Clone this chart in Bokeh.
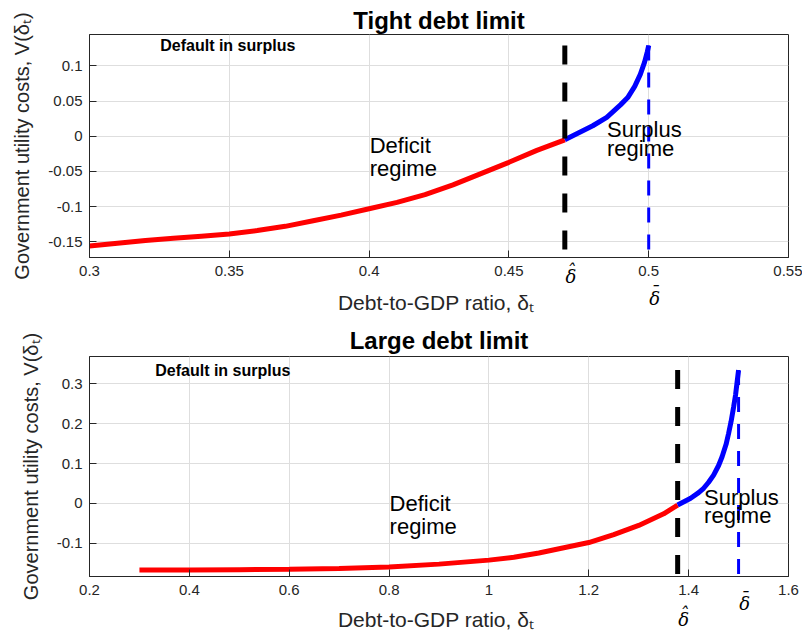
from bokeh.plotting import figure
from bokeh.models import Label, LinearAxis, Range1d, FixedTicker, Title
from bokeh.layouts import column
from bokeh.embed import file_html
from bokeh.resources import INLINE

# ---------------- data: tight debt limit ----------------
tight_deficit_x = [0.300, 0.310, 0.320, 0.330, 0.340, 0.350, 0.360, 0.370, 0.380,
                   0.390, 0.400, 0.410, 0.420, 0.430, 0.440, 0.450, 0.460, 0.470]
tight_deficit_v = [-0.156, -0.152, -0.148, -0.145, -0.142, -0.139, -0.134, -0.128, -0.120,
                   -0.112, -0.103, -0.094, -0.083, -0.069, -0.053, -0.037, -0.020, -0.005]
tight_surplus_x = [0.470, 0.475, 0.480, 0.485, 0.490, 0.4925, 0.495, 0.497, 0.4985, 0.4995, 0.500]
tight_surplus_v = [-0.005, 0.005, 0.015, 0.027, 0.045, 0.055, 0.071, 0.088, 0.105, 0.120, 0.129]
tight_dhat = 0.47
tight_dbar = 0.50
tight_xrange = (0.3, 0.55)
tight_yrange = (-0.1723, 0.1447)
tight_xticks = [0.3, 0.35, 0.4, 0.45, 0.5, 0.55]
tight_xtick_labels = ["0.3", "0.35", "0.4", "0.45", "0.5", "0.55"]
tight_yticks = [-0.15, -0.1, -0.05, 0, 0.05, 0.1]
tight_ytick_labels = ["-0.15", "-0.1", "-0.05", "0", "0.05", "0.1"]

# ---------------- data: large debt limit ----------------
large_deficit_x = [0.30, 0.40, 0.50, 0.60, 0.70, 0.80, 0.90, 1.00, 1.05, 1.10,
                   1.15, 1.20, 1.25, 1.30, 1.35, 1.378]
large_deficit_v = [-0.167, -0.167, -0.166, -0.165, -0.163, -0.159, -0.152, -0.142, -0.135, -0.124,
                   -0.111, -0.098, -0.078, -0.055, -0.026, -0.004]
large_surplus_x = [1.378, 1.404, 1.42, 1.43, 1.44, 1.45, 1.46, 1.467, 1.475, 1.48,
                   1.485, 1.49, 1.494, 1.4967, 1.500]
large_surplus_v = [-0.004, 0.013, 0.027, 0.038, 0.053, 0.071, 0.095, 0.117, 0.148, 0.175,
                   0.205, 0.241, 0.272, 0.300, 0.334]
large_dhat = 1.378
large_dbar = 1.50
large_xrange = (0.2, 1.6)
large_yrange = (-0.183, 0.368)
large_xticks = [0.2, 0.4, 0.6, 0.8, 1, 1.2, 1.4, 1.6]
large_xtick_labels = ["0.2", "0.4", "0.6", "0.8", "1", "1.2", "1.4", "1.6"]
large_yticks = [-0.1, 0, 0.1, 0.2, 0.3]
large_ytick_labels = ["-0.1", "0", "0.1", "0.2", "0.3"]

titles = ["Tight debt limit", "Large debt limit"]
note_text = "Default in surplus"
x_label = "Debt-to-GDP ratio,  δₜ"
y_label = "Government utility costs, V(δₜ)"
HAT = "ˆ"      # accent written just above the delta
BAR = "¯"
DELTA = "δ"

AX = "#262626"
SANS = "Liberation Sans"
FRAME_W = 699


def txt(p, x, y, text, size, style="normal", yo=0):
    p.add_layout(Label(x=x, y=y, text=text, text_font=SANS,
                       text_font_size=f"{size}px", text_font_style=style,
                       text_align="left", text_baseline="alphabetic",
                       y_offset=yo, text_color="black"))


def make_panel(height, btop, bbottom, xr, yr, xt, xtl, yt, ytl,
               row_a, row_b, gap_lines, delta_standoff, label_standoff, title, tstand):
    p = figure(width=802, height=height, x_range=Range1d(*xr), y_range=Range1d(*yr),
               output_backend="svg", toolbar_location=None, title=None,
               min_border_left=89, min_border_right=802 - 89 - FRAME_W,
               min_border_top=btop, min_border_bottom=bbottom)
    p.background_fill_color = "white"
    p.border_fill_color = "white"
    p.outline_line_color = AX
    p.outline_line_width = 1
    p.outline_line_alpha = 1

    t = Title(text=title, align="center", text_font=SANS, text_font_size="24px",
              text_font_style="bold", text_color="black", standoff=tstand)
    p.add_layout(t, "above")

    xa = p.xaxis[0]
    ya = p.yaxis[0]
    xa.ticker = FixedTicker(ticks=xt)
    xa.major_label_overrides = dict(zip(xt, xtl))
    ya.ticker = FixedTicker(ticks=yt)
    ya.major_label_overrides = dict(zip(yt, ytl))
    for ax in (xa, ya):
        ax.axis_line_color = AX
        ax.major_tick_line_color = AX
        ax.minor_tick_line_color = None
        ax.major_tick_in = 7
        ax.major_tick_out = 0
        ax.major_label_text_color = AX
        ax.major_label_text_font = SANS
        ax.major_label_text_font_size = "15px"
        ax.axis_label_text_font = SANS
        ax.axis_label_text_font_style = "normal"
        ax.axis_label_text_color = AX
    xa.major_label_standoff = 8
    ya.major_label_standoff = 7
    ya.axis_label = y_label
    ya.axis_label_standoff = 12
    ya.axis_label_text_font_size = "20px"

    # delta-hat / delta-bar marks under the axis, just right of their lines;
    # tight line height so the accent sits right above the delta
    shift = 6 * (xr[1] - xr[0]) / FRAME_W
    marks = {}
    for k, acc in row_a.items():
        marks[k + shift] = acc + "\n" + DELTA
    for k, acc in row_b.items():
        marks[k + shift] = "\n" * gap_lines + acc + "\n" + DELTA
    da = LinearAxis(ticker=FixedTicker(ticks=sorted(marks)),
                    major_label_overrides=marks,
                    major_label_standoff=delta_standoff,
                    major_label_text_font="DejaVu Serif",
                    major_label_text_font_style="italic",
                    major_label_text_font_size="18px",
                    major_label_text_line_height=0.26,
                    major_label_text_color="black",
                    axis_line_color=None, major_tick_line_color=None,
                    minor_tick_line_color=None, major_tick_in=0, major_tick_out=0,
                    axis_label=x_label, axis_label_standoff=label_standoff,
                    axis_label_text_font=SANS, axis_label_text_font_size="21px",
                    axis_label_text_font_style="normal", axis_label_text_color=AX)
    p.add_layout(da, "below")

    p.xgrid.grid_line_color = "#dedede"
    p.ygrid.grid_line_color = "#dedede"
    p.xgrid.ticker = FixedTicker(ticks=xt)
    p.ygrid.ticker = FixedTicker(ticks=yt)
    return p


def draw(p, dx, dv, sx, sv, dhat, dbar, yr):
    p.line(dx, dv, line_color="#ff0000", line_width=5)
    p.line(sx, sv, line_color="#0000ff", line_width=5)
    vmax = sv[-1]
    p.line([dhat, dhat], [vmax, yr[0]], line_color="black", line_width=5, line_dash="19 18")
    p.line([dbar, dbar], [vmax, yr[0]], line_color="#0000ff", line_width=3, line_dash="15 12")


# ---------------- top panel ----------------
p1 = make_panel(321, 34, 64, tight_xrange, tight_yrange,
                tight_xticks, tight_xtick_labels, tight_yticks, tight_ytick_labels,
                {tight_dhat: HAT}, {tight_dbar: BAR}, 4, -18, -21, titles[0], 2)
draw(p1, tight_deficit_x, tight_deficit_v, tight_surplus_x, tight_surplus_v,
     tight_dhat, tight_dbar, tight_yrange)
txt(p1, 0.3253, 0.1223, note_text, 16, style="bold", yo=5)
txt(p1, 0.4002, -0.0252, "Deficit", 22, yo=9)
txt(p1, 0.4002, -0.0583, "regime", 22, yo=9)
txt(p1, 0.4851, -0.0036, "Surplus", 22, yo=9)
txt(p1, 0.4851, -0.0307, "regime", 22, yo=9)

# ---------------- bottom panel ----------------
p2 = make_panel(313, 35, 57, large_xrange, large_yrange,
                large_xticks, large_xtick_labels, large_yticks, large_ytick_labels,
                {large_dbar: BAR}, {large_dhat: HAT}, 3, -10, -25, titles[1], 5)
draw(p2, large_deficit_x, large_deficit_v, large_surplus_x, large_surplus_v,
     large_dhat, large_dbar, large_yrange)
txt(p2, 0.3317, 0.3194, note_text, 16, style="bold", yo=5)
txt(p2, 0.801, -0.0236, "Deficit", 22, yo=9)
txt(p2, 0.801, -0.0801, "regime", 22, yo=9)
txt(p2, 1.431, -0.0088, "Surplus", 22, yo=9)
txt(p2, 1.431, -0.0528, "regime", 22, yo=9)

layout = column(p1, p2)
open("out.html", "w").write(file_html(layout, INLINE))
